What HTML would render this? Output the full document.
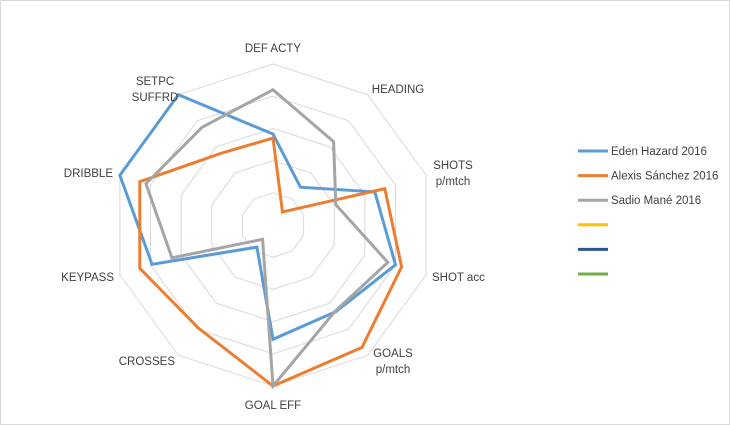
<!DOCTYPE html>
<html><head><meta charset="utf-8"><style>
html,body{margin:0;padding:0;background:#fff}
svg{display:block;font-family:"Liberation Sans",sans-serif}
</style></head><body>
<svg id="chart" width="730" height="425">
<rect x="0.5" y="0.5" width="729" height="424" fill="#fff" stroke="#d9d9d9"/>
<g id="grid"></g>
<g id="series"></g>
<g id="labels" font-size="11.5" fill="#404040"></g>
<g id="legend" font-size="11.5" fill="#404040"></g>
</svg>
<script>
const categories = ["DEF ACTY","HEADING","SHOTS p/mtch","SHOT acc","GOALS p/mtch","GOAL EFF","CROSSES","KEYPASS","DRIBBLE","SETPC SUFFRD"];
const seriesNames = ["Eden Hazard 2016","Alexis Sánchez 2016","Sadio Mané 2016","","",""];
const hazard = [0.565,0.29,0.665,0.80,0.665,0.71,0.17,0.79,1.0,1.0];
const sanchez = [0.54,0.10,0.73,0.84,0.94,1.0,0.79,0.87,0.87,0.55];
const mane = [0.84,0.64,0.41,0.75,0.66,1.0,0.11,0.66,0.83,0.75];
const maxValue = 1.0;
const ringCount = 5;

const NS="http://www.w3.org/2000/svg";
const cx=273, cy=225, R=161;
const colors=["#5b9bd5","#ed7d31","#a5a5a5","#ffc000","#2f5597","#70ad47"];
function pt(i,v){const a=i*2*Math.PI/categories.length;const r=v/maxValue*R;return [cx+r*Math.sin(a),cy-r*Math.cos(a)];}
function mk(tag,attrs,parent){const e=document.createElementNS(NS,tag);for(const k in attrs)e.setAttribute(k,attrs[k]);parent.appendChild(e);return e;}
const grid=document.getElementById('grid');
for(let k=1;k<=ringCount;k++){
  const pts=categories.map((c,i)=>pt(i,maxValue*k/ringCount).join(',')).join(' ');
  const p=mk('polygon',{points:pts,fill:'none',stroke:'#d9d9d9','stroke-width':1},grid);
  
  
}
const sg=document.getElementById('series');
[hazard,sanchez,mane].forEach((d,s)=>{
  const pts=d.map((v,i)=>pt(i,v).join(',')).join(' ');
  const p=mk('polygon',{points:pts,fill:'none',stroke:colors[s],'stroke-width':3,'stroke-linejoin':'miter'},sg);
  
  
});
const lg=document.getElementById('labels');
const labelPos=[[273,52,'middle',['DEF ACTY']],[398,93,'middle',['HEADING']],[453,169,'middle',['SHOTS','p/mtch']],[432,281,'start',['SHOT acc']],[393,357,'middle',['GOALS','p/mtch']],[273,409,'middle',['GOAL EFF']],[175,365,'end',['CROSSES']],[114,281,'end',['KEYPASS']],[113,177,'end',['DRIBBLE']],[155,85,'middle',['SETPC','SUFFRD']]];
labelPos.forEach((lp,i)=>{
  const t=mk('text',{x:lp[0],y:lp[1],'text-anchor':lp[2]},lg);
  
  
  lp[3].forEach((s,j)=>{const ts=mk('tspan',{x:lp[0],dy:j?16:0},t);ts.textContent=s;});
});
const leg=document.getElementById('legend');
seriesNames.forEach((n,i)=>{
  const y=151+i*24.6;
  const l=mk('line',{x1:578,y1:y,x2:608,y2:y,stroke:colors[i],'stroke-width':3},leg);
  
  
  if(n){const t=mk('text',{x:611,y:y+4},leg);t.textContent=n;
  
  }
});
</script>
</body></html>
